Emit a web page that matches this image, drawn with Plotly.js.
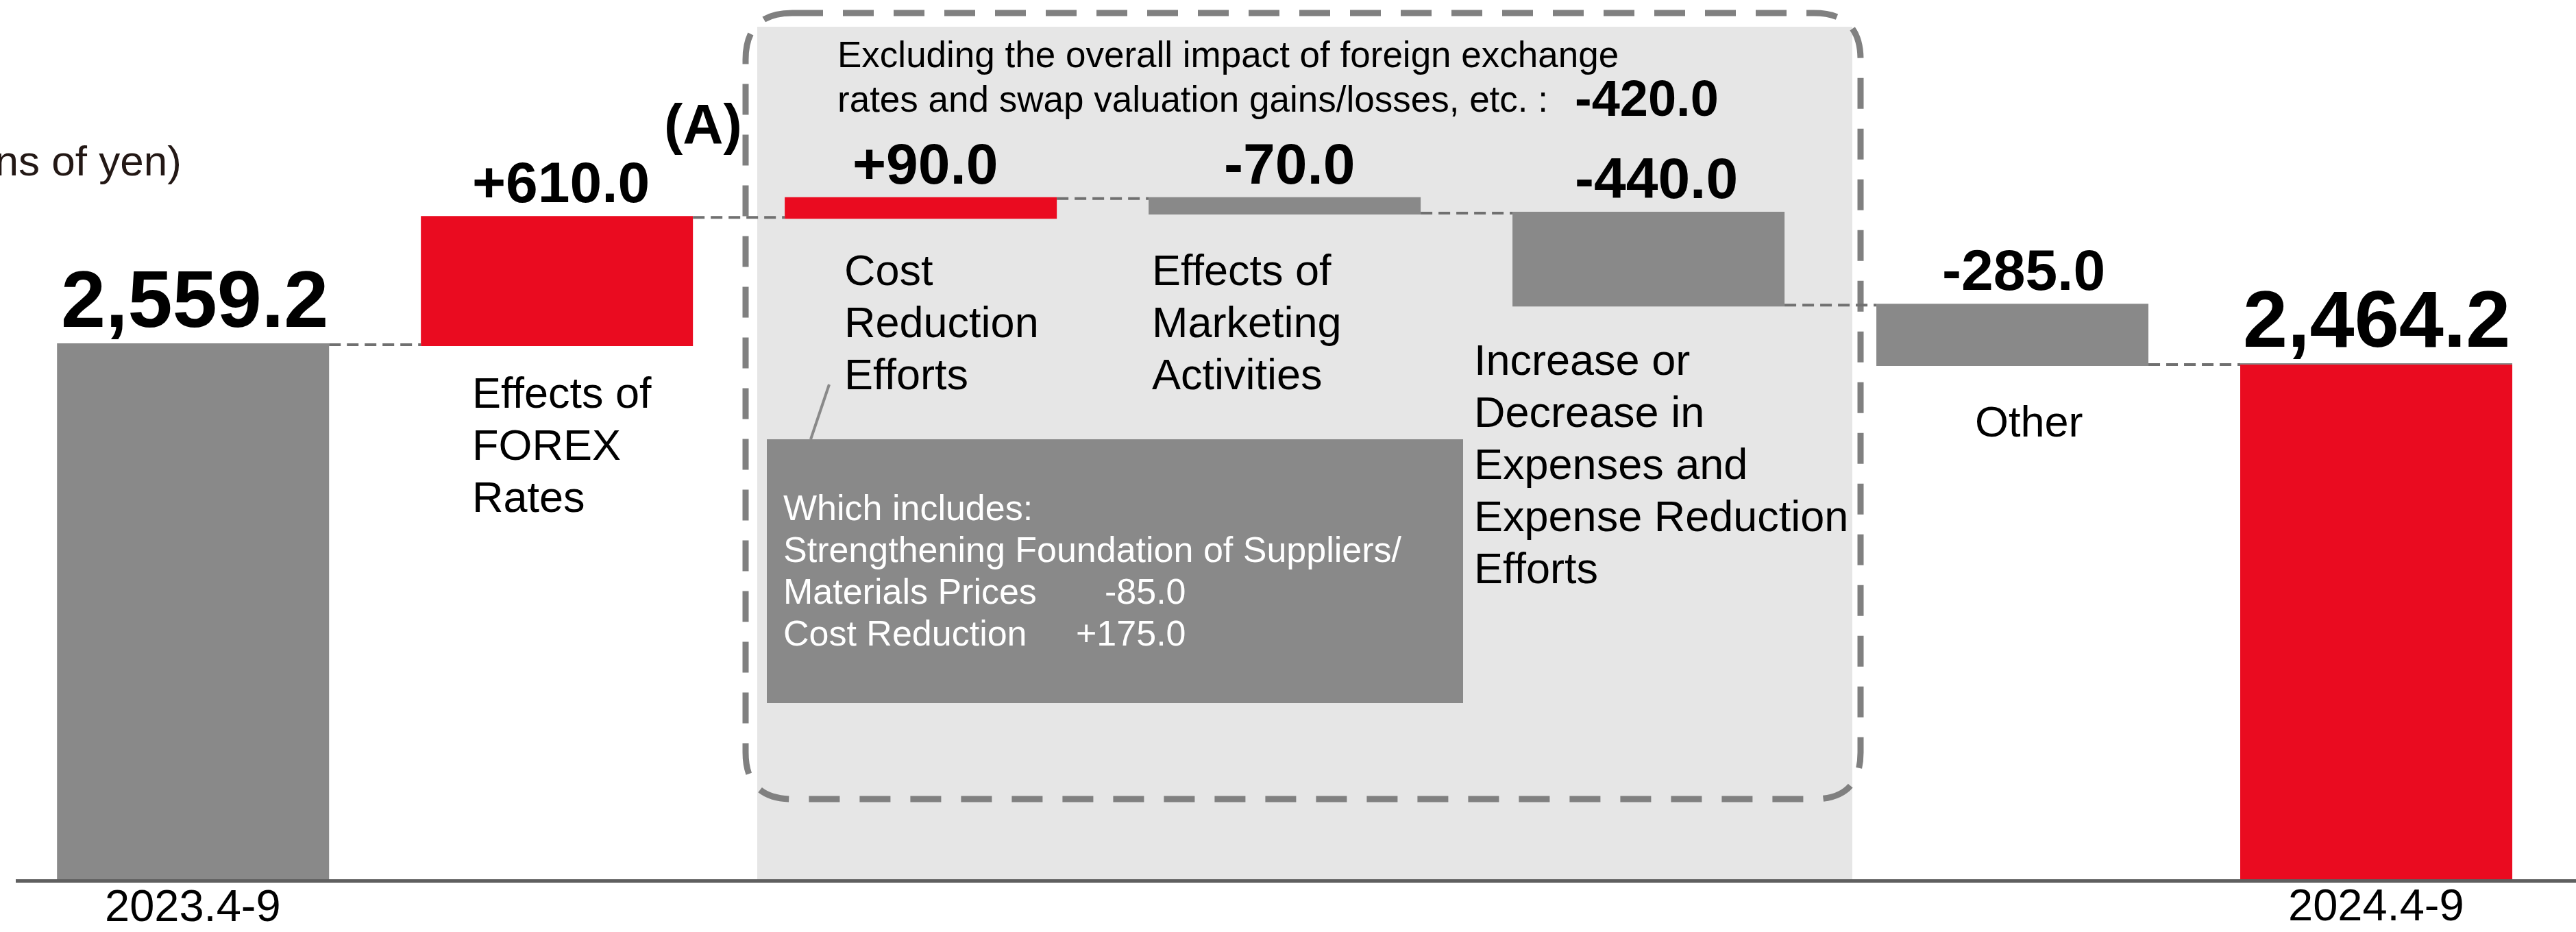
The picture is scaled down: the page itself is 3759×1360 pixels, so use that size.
<!DOCTYPE html>
<html><head><meta charset="utf-8">
<script src="https://cdn.plot.ly/plotly-3.0.1.min.js"></script>
<style>html,body{margin:0;padding:0;background:#fff;overflow:hidden}</style>
</head><body><div id="chart" style="width:3759px;height:1360px"></div>
<script>
// ---------------- data ----------------
const categories = ['2023.4-9', 'Effects of FOREX Rates', 'Cost Reduction Efforts',
  'Effects of Marketing Activities', 'Increase or Decrease in Expenses and Expense Reduction Efforts',
  'Other', '2024.4-9'];
const measures = ['absolute', 'relative', 'relative', 'relative', 'relative', 'relative', 'total'];
const values = [2559.2, 610.0, 90.0, -70.0, -440.0, -285.0, 0];
const tickLabels = ['2023.4-9', '2024.4-9'];
const categoryLabelLines = [
  null,
  ['Effects of', 'FOREX', 'Rates'],
  ['Cost', 'Reduction', 'Efforts'],
  ['Effects of', 'Marketing', 'Activities'],
  ['Increase or', 'Decrease in', 'Expenses and', 'Expense Reduction', 'Efforts'],
  ['Other'],
  null
];
const excludingFxLines = ['Excluding the overall impact of foreign exchange',
  'rates and swap valuation gains/losses, etc. :'];
const excludingFxValue = -420.0;
const breakdownTitle = 'Which includes:';
const breakdownLabelLines = [['Strengthening Foundation of Suppliers/', 'Materials Prices'], ['Cost Reduction']];
const breakdownValues = [-85.0, 175.0];
const unitLabel = '(Billions of yen)';
const groupLabel = '(A)';

// ---------------- styles / layout geometry ----------------
const RED = '#EA0B20', GRAY = '#898989', PANEL = '#E6E6E6', DASHBOX = '#808080';
const FONT = 'Liberation Sans, Arial, Helvetica, sans-serif';
const W = 3759, H = 1360, L = 23, R = 0, T = 0, B = 77;
const plotW = W - L - R, plotH = H - T - B;
const px2x = p => (p - L) / plotW;
const px2y = p => (T + plotH - p) / plotH;

// helpers
const fmtTotal = v => v.toLocaleString('en-US', {minimumFractionDigits: 1, maximumFractionDigits: 1});
const fmtDelta = v => (v > 0 ? '+' : '') + v.toFixed(1);

// running totals
const tops = [];
let run = 0;
const labels = [];
values.forEach((v, i) => {
  if (measures[i] === 'absolute') { run = v; tops.push(v); labels.push(fmtTotal(v)); }
  else if (measures[i] === 'total') { tops.push(run); labels.push(fmtTotal(run)); }
  else { const prev = run; run += v; tops.push(Math.max(prev, run)); labels.push(fmtDelta(v)); }
});
const finalTotal = run;

const annotations = [];
function line(text, xPx, basePx, size, opt) {
  opt = opt || {};
  annotations.push({
    xref: opt.xref || 'paper', yref: 'paper', x: opt.xref ? xPx : px2x(xPx), y: px2y(basePx + 0.212 * size + 1),
    xanchor: opt.anchor || 'left', yanchor: 'bottom', showarrow: false,
    text: opt.bold ? '<b>' + text + '</b>' : text,
    font: {family: FONT, size: size, color: opt.color || '#000'}
  });
}

// value labels over bars (data-anchored)
const valueShift = [2, 6, 7, 7, 11, 16, 0];
labels.forEach((t, i) => {
  const big = measures[i] !== 'relative';
  const size = big ? 117 : 84;
  annotations.push({
    xref: 'x', yref: 'y', x: categories[i], y: tops[i], xanchor: 'center', yanchor: 'bottom',
    yshift: big ? -1 : 2, xshift: valueShift[i], showarrow: false,
    text: '<b>' + t + '</b>', font: {family: FONT, size: size, color: '#000'}
  });
});

// period labels under the first and last bars
line(tickLabels[0], categories[0], 1345, 65, {xref: 'x', anchor: 'center'});
line(tickLabels[1], categories[categories.length - 1], 1344, 65, {xref: 'x', anchor: 'center'});

// category labels
const catLabelPos = [null, [687, 596], [1230, 417], [1679, 417], [2149, 548], [2961, 638], null];
categoryLabelLines.forEach((lines, i) => {
  if (!lines) return;
  const [x0, b0] = catLabelPos[i];
  lines.forEach((s, k) => line(s, x0, b0 + k * 76, 63, {anchor: lines.length === 1 ? 'center' : 'left'}));
});

// excluding FX note
excludingFxLines.forEach((s, k) => line(s, 1220, 99 + k * 65, 53));
line(fmtDelta(excludingFxValue), 2296, 170, 74, {bold: true});

// breakdown callout
line(breakdownTitle, 1141, 760, 52, {color: '#fff'});
let bl = 821;
breakdownLabelLines.forEach((lines, j) => {
  lines.forEach((s, k) => {
    line(s, 1141, bl, 52, {color: '#fff'});
    if (k === lines.length - 1) line(fmtDelta(breakdownValues[j]), 1733, bl, 52, {color: '#fff', anchor: 'right'});
    bl += 61;
  });
});

// unit & group labels
line(unitLabel, 267, 257, 62, {anchor: 'right', color: '#231815'});
line(groupLabel, 1026, 210, 82, {anchor: 'center', bold: true});

// shapes
function rr(x0, y0, x1, y1, r) {
  const P = (x, y) => px2x(x) + ',' + px2y(y);
  return 'M' + P(x0 + r, y0) + ' L' + P(x1 - r, y0) + ' Q' + P(x1, y0) + ' ' + P(x1, y0 + r) +
    ' L' + P(x1, y1 - r) + ' Q' + P(x1, y1) + ' ' + P(x1 - r, y1) +
    ' L' + P(x0 + r, y1) + ' Q' + P(x0, y1) + ' ' + P(x0, y1 - r) +
    ' L' + P(x0, y0 + r) + ' Q' + P(x0, y0) + ' ' + P(x0 + r, y0) + ' Z';
}
const shapes = [
  {type: 'rect', xref: 'paper', yref: 'paper', x0: px2x(1105), x1: px2x(2703), y0: 0, y1: px2y(39),
   fillcolor: PANEL, line: {width: 0}, layer: 'below'},
  {type: 'path', xref: 'paper', yref: 'paper', path: rr(1088, 19, 2715, 1166, 68),
   line: {color: DASHBOX, width: 9, dash: '45px,29px'}, layer: 'below'},
  {type: 'rect', xref: 'paper', yref: 'paper', x0: px2x(1119), x1: px2x(2135), y0: px2y(1026), y1: px2y(641),
   fillcolor: GRAY, line: {width: 0}, layer: 'above'},
  {type: 'line', xref: 'paper', yref: 'paper', x0: px2x(1183), y0: px2y(641), x1: px2x(1210), y1: px2y(561),
   line: {color: GRAY, width: 4}, layer: 'above'}
];

const barWidth = 0.7477;
const traces = [
  {type: 'waterfall', x: categories, y: values, measure: measures, width: barWidth,
   increasing: {marker: {color: RED, line: {width: 0}}},
   decreasing: {marker: {color: GRAY, line: {width: 0}}},
   totals: {marker: {color: GRAY, line: {width: 0}}},
   connector: {mode: 'between', line: {color: '#707070', width: 4, dash: '17px,9px'}},
   textinfo: 'none', hoverinfo: 'skip', showlegend: false},
  {type: 'bar', x: [categories[categories.length - 1]], y: [finalTotal], width: barWidth,
   marker: {color: RED, line: {width: 0}}, hoverinfo: 'skip', showlegend: false}
];

const xr0 = -(281.7 - L) / 530.97, xr1 = (W - 281.7) / 530.97;
const layout = {
  width: W, height: H, margin: {l: L, r: R, t: T, b: B},
  paper_bgcolor: '#fff', plot_bgcolor: '#fff', showlegend: false,
  xaxis: {type: 'category', range: [xr0, xr1], showticklabels: false, ticks: '', showgrid: false, zeroline: false,
    showline: true, linecolor: '#5f5f5f', linewidth: 5, fixedrange: true},
  yaxis: {range: [0, 4210], visible: false, fixedrange: true},
  shapes: shapes, annotations: annotations
};
Plotly.newPlot('chart', traces, layout, {displayModeBar: false, staticPlot: true});
</script></body></html>
